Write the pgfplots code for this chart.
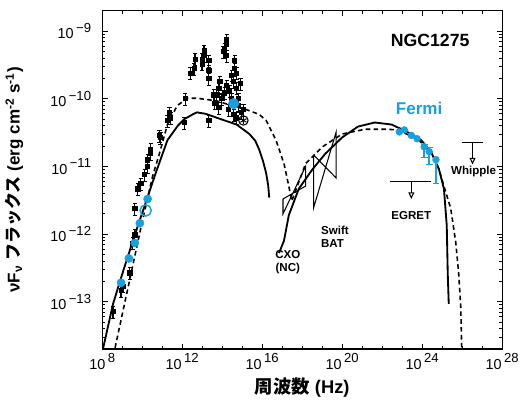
\documentclass[border=0pt]{standalone}
\usepackage{fontspec}
\setmainfont{Liberation Sans}
\newfontfamily\cjk{Noto Sans CJK JP}
\usepackage{pgfplots}
\pgfplotsset{compat=1.18}
\usetikzlibrary{arrows.meta}
\definecolor{fermi}{RGB}{25,160,225}
% 10 with a large raised exponent, as in the figure
\newcommand{\pw}[1]{10\,\raisebox{0.45em}{\fontsize{10}{10}\selectfont #1}}

\begin{document}
\begin{tikzpicture}
\begin{loglogaxis}[
  scale only axis, width=305pt, height=258pt,
  xmin=1e8, xmax=1e28, ymin=2e-14, ymax=2e-9,
  axis line style={line width=0.9pt},
  xtick={1e8,1e12,1e16,1e20,1e24,1e28},
  xticklabels={\pw{8},\pw{12},\pw{16},\pw{20},\pw{24},\pw{28}},
  minor xtick={1e9,1e10,1e11,1e13,1e14,1e15,1e17,1e18,1e19,1e21,1e22,1e23,1e25,1e26,1e27},
  ytick={1e-13,1e-12,1e-11,1e-10,1e-9},
  yticklabels={\pw{−13},\pw{−12},\pw{−11},\pw{−10},\pw{−9}},
  minor ytick={2e-14,3e-14,4e-14,5e-14,6e-14,7e-14,8e-14,9e-14,
    2e-13,3e-13,4e-13,5e-13,6e-13,7e-13,8e-13,9e-13,
    2e-12,3e-12,4e-12,5e-12,6e-12,7e-12,8e-12,9e-12,
    2e-11,3e-11,4e-11,5e-11,6e-11,7e-11,8e-11,9e-11,
    2e-10,3e-10,4e-10,5e-10,6e-10,7e-10,8e-10,9e-10,2e-9},
  major tick length=4pt, minor tick length=2.2pt,
  every tick/.style={line width=0.7pt, black},
  tick label style={font=\fontsize{11}{12}\selectfont},
  yticklabel style={xshift=-5pt},
  xlabel={\bfseries{\cjk 周波数} (Hz)},
  ylabel={\bfseries νF\textsubscript{ν} {\cjk フラックス} (erg cm\textsuperscript{-2} s\textsuperscript{-1})},
  every axis x label/.style={at={(axis description cs:0.5,-0.113)},anchor=center,
    font=\fontsize{14}{15}\selectfont},
  every axis y label/.style={at={(axis description cs:-0.22,0.5)},rotate=90,anchor=center,
    font=\fontsize{13}{14}\selectfont},
  clip=false,
]
% dashed model
\addplot[black, line width=1.2pt, dash pattern=on 3.5pt off 2.5pt] coordinates {
(4.37e8,2.09e-14) (8.51e9,1.23e-12) (3.31e10,7.24e-12) (7.24e10,1.55e-11)
(1.82e11,4.17e-11) (5.62e11,7.94e-11) (1.78e12,1.02e-10) (5.50e12,1.02e-10)
(5.37e13,9.33e-11) (2.34e14,8.13e-11) (1.62e15,6.92e-11) (7.08e15,5.89e-11)
(1.58e16,4.79e-11) (4.90e16,2.45e-11) (1.23e17,1.10e-11) (2.14e17,5.13e-12)
(3.02e17,3.09e-12) (1.48e18,1.10e-11) (1.02e19,1.95e-11) (1e20,3.02e-11)
(1.38e21,3.55e-11) (1.86e22,3.55e-11) (5.89e22,3.47e-11) (5.62e23,2.57e-11)
(2.75e24,1.66e-11) (6.92e24,9.12e-12) (1.23e25,5.13e-12) (2.69e25,2.40e-12)
(4.79e25,7.59e-13) (6.76e25,2.57e-13) (8.51e25,8.51e-14) (9.55e25,2.09e-14)};
% solid model, synchrotron part
\addplot[black, line width=1.4pt] coordinates {
(1.12e8,2.09e-14) (3.47e8,9.33e-14) (1.10e9,2.82e-13) (4.27e9,9.77e-13)
(1.32e10,2.63e-12) (4.68e10,7.94e-12) (1.82e11,2.45e-11) (6.0e11,4.0e-11)
(1.26e12,5.01e-11) (3.89e12,6.03e-11) (5.50e12,6.31e-11) (1.5e13,6.0e-11)
(5.37e13,5.25e-11) (5.25e14,4.17e-11) (2.29e15,3.02e-11) (4.5e15,2.4e-11)
(7.08e15,1.78e-11) (1.1e16,1.2e-11) (1.58e16,7.94e-12) (2.0e16,5.2e-12)
(2.24e16,3.47e-12)};
% solid model, inverse Compton part
\addplot[black, line width=1.4pt] coordinates {
(6.92e16,5.25e-13) (1.23e17,8.0e-13) (2.14e17,1.9e-12) (6.76e17,4.68e-12)
(3.31e18,9.12e-12) (1.45e19,1.55e-11) (1e20,2.69e-11) (6.17e20,3.89e-11)
(4.27e21,4.47e-11) (2.95e22,4.17e-11) (1.82e23,3.24e-11) (8.91e23,2.45e-11)
(2.75e24,1.66e-11) (6.92e24,9.12e-12) (1.23e25,4.68e-12) (1.70e25,1.35e-12)
(1.91e25,2.57e-13) (2.14e25,9.33e-14)};
% CXO and Swift BAT bow ties
\addplot[black, line width=0.8pt] coordinates {
(1.10e17,3.31e-12) (1.48e18,5.13e-12) (1.48e18,1.0e-11) (1.10e17,2.0e-12) (1.10e17,3.31e-12)};
\addplot[black, line width=0.8pt] coordinates {
(3.72e18,1.48e-11) (5.01e19,6.76e-12) (5.01e19,3.24e-11) (3.72e18,2.45e-12) (3.72e18,1.48e-11)};
% black data
\addplot[only marks, mark=square*, mark size=1.6pt, black,
  error bars/.cd, y dir=both, y fixed relative=0.2, error bar style={line width=0.9pt}] coordinates {
(3.47e8,7.24e-14) (8.71e8,1.48e-13) (1.10e9,1.70e-13) (2.40e9,2.69e-13)
(3.39e9,7.41e-13) (4.27e9,9.77e-13) (4.27e9,2.40e-12) (6.03e9,4.68e-12)
(8.51e9,5.62e-12) (1.32e10,7.59e-12) (1.86e10,1.0e-11) (1.86e10,1.26e-11)
(2.63e10,1.55e-11) (2.63e10,1.82e-11) (7.24e10,2.88e-11) (8.13e10,2.69e-11)
(1.82e11,4.79e-11) (2.29e11,6.31e-11) (2.57e11,5.25e-11) (1.41e12,1.02e-10)
(1.26e12,4.47e-11)
(2.14e13,4.79e-11) (2.51e12,2.40e-10) (3.89e12,2.82e-10) (4.37e12,3.89e-10)
(9.77e12,3.89e-10) (9.77e12,3.31e-10) (1.23e13,5.13e-10) (1.23e13,4.37e-10)
(2.14e13,3.72e-10) (2.14e13,2.63e-10) (2.14e13,2.00e-10) (3.80e13,1.15e-10)
(5.37e13,1.15e-10) (6.76e13,1.45e-10) (7.59e13,1.82e-10) (1.17e14,5.01e-10)
(1.32e14,5.50e-10) (1.66e14,7.59e-10) (1.66e14,6.46e-10) (1.66e14,4.37e-10)
(1.66e14,1.58e-10) (2.34e14,1.32e-10) (2.95e14,2.24e-10) (3.72e14,1.82e-10)
(4.17e14,3.72e-10) (4.17e14,2.82e-10) (5.25e14,1.45e-10) (6.46e14,1.02e-10)
(2.09e14,6.92e-11) (3.72e14,5.89e-11) (6.46e14,8.13e-11) (5.25e14,5.25e-11)
(9.12e14,6.31e-11) (9.55e13,1.02e-10) (1.32e14,1.23e-10) (2.95e14,1.02e-10)
(6.76e13,7.41e-11) (8.13e14,1.70e-10) (4.27e13,8.71e-11) (5.25e14,2.40e-10)
(1.15e15,6.92e-11)};
% circled star
\addplot[only marks, mark=o, mark size=3.6pt, line width=0.8pt, black] coordinates {(1.15e15,4.79e-11)};
\addplot[only marks, mark=asterisk, mark size=2.8pt, line width=0.7pt, black] coordinates {(1.15e15,4.79e-11)};
% blue data
\addplot[only marks, mark=*, mark size=3.1pt, fermi] coordinates {
(8.71e8,1.91e-13) (2.14e9,4.37e-13) (4.27e9,7.41e-13) (7.59e9,1.45e-12) (1.86e10,3.31e-12)};
\addplot[only marks, mark=*, mark size=4pt, fermi] coordinates {(3.72e14,8.51e-11)};
\addplot[only marks, mark=o, mark size=4.3pt, line width=1.1pt, fermi] coordinates {(1.48e10,2.24e-12)};
\addplot[only marks, mark=*, mark size=2.6pt, fermi,
  error bars/.cd, y dir=both, y explicit relative, error bar style={line width=1.1pt}] coordinates {
(7.24e22,3.24e-11) (1.29e23,3.47e-11) (2.88e23,2.88e-11) (5.62e23,2.57e-11)
(1.26e24,1.95e-11) +=(0,0.10) -=(0,0.29)
(2.24e24,1.66e-11) +=(0,0.17) -=(0,0.34)
(4.90e24,1.26e-11) +=(0,0.10) -=(0,0.55)};
% upper limits
\addplot[black, line width=0.9pt] coordinates {(2.34e22,6.03e-12) (2.75e24,6.03e-12)};
\addplot[black, line width=0.8pt, -{Triangle[open, length=5pt, width=4.5pt]}] coordinates {(2.88e23,6.03e-12) (2.88e23,3.31e-12)};
\addplot[black, line width=0.9pt] coordinates {(9.55e25,2.29e-11) (1.15e27,2.29e-11)};
\addplot[black, line width=0.8pt, -{Triangle[open, length=5pt, width=4.5pt]}] coordinates {(3.31e26,2.29e-11) (3.31e26,1.07e-11)};
% labels
\node[font=\bfseries\fontsize{13.5}{14}\selectfont] at (axis cs:2.5e24,7.2e-10) {NGC1275};
\node[font=\bfseries\fontsize{13}{14}\selectfont, text=fermi] at (axis cs:7.08e23,7.16e-11) {Fermi};
\node[font=\bfseries\fontsize{8.8}{9}\selectfont] at (axis cs:2.88e23,1.91e-12) {EGRET};
\node[font=\bfseries\fontsize{8.8}{9}\selectfont] at (axis cs:3.72e26,8.5e-12) {Whipple};
\node[font=\bfseries\fontsize{8.8}{10}\selectfont, align=center] at (axis cs:1.9e17,3.9e-13) {CXO\\(NC)};
\node[font=\bfseries\fontsize{8.8}{10}\selectfont, align=left, anchor=west] at (axis cs:5.2e18,9.1e-13) {Swift\\BAT};
\end{loglogaxis}
\path ([shift={(-78pt,-36pt)}]current axis.south west) rectangle ([shift={(9pt,8.25pt)}]current axis.north east);
\end{tikzpicture}
\end{document}
